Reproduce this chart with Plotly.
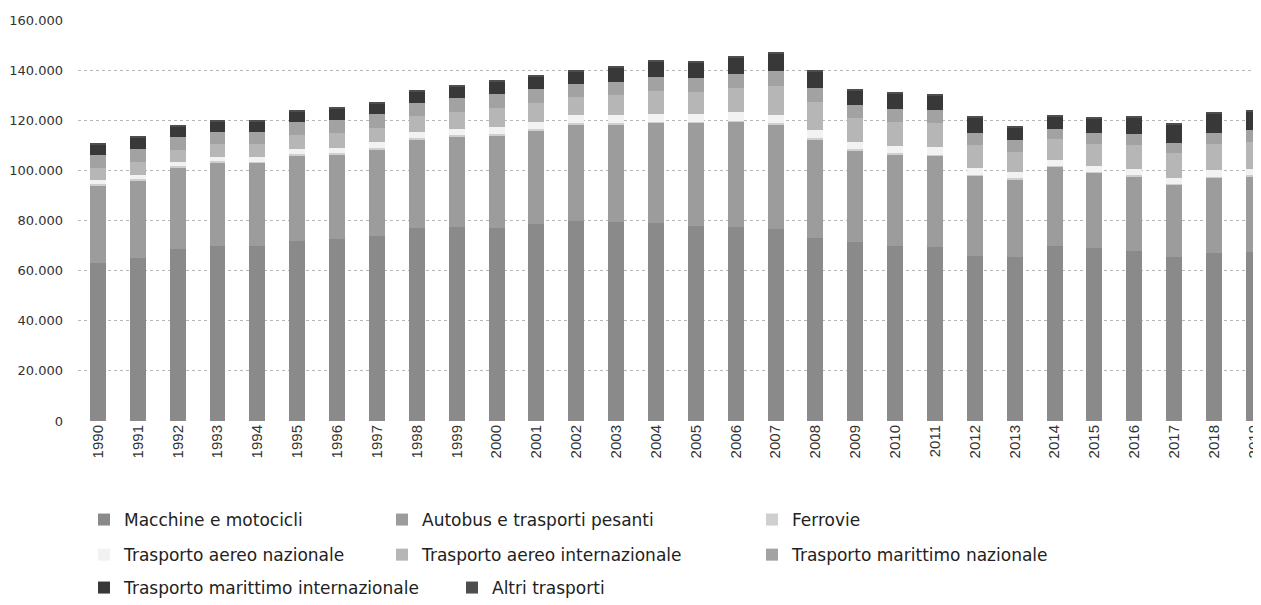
import plotly.graph_objects as go

years = [str(y) for y in range(1990, 2020)]

macchine = [63.0, 65.0, 68.5, 70.0, 70.0, 72.0, 72.5, 74.0, 77.0, 77.5, 77.0, 78.5, 80.0, 79.5, 79.0,
            78.0, 77.5, 76.5, 73.0, 71.5, 70.0, 69.5, 66.0, 65.5, 70.0, 69.0, 68.0, 65.5, 67.0, 67.5]
autobus = [31.0, 31.0, 32.5, 33.0, 33.0, 34.0, 34.0, 34.5, 35.5, 36.0, 37.0, 37.5, 38.5, 39.0, 40.0,
           41.0, 42.0, 42.0, 39.5, 36.5, 36.5, 36.5, 32.0, 31.0, 31.5, 30.0, 29.7, 28.7, 30.2, 30.2]
ferrovie = [0.6, 0.6, 0.6, 0.6, 0.5, 0.5, 0.5, 0.5, 0.5, 0.5, 0.5, 0.5, 0.5, 0.5, 0.4,
            0.4, 0.4, 0.4, 0.4, 0.4, 0.3, 0.3, 0.3, 0.3, 0.3, 0.3, 0.3, 0.3, 0.3, 0.3]
aereo_naz = [1.7, 1.7, 1.8, 1.8, 1.9, 2.0, 2.1, 2.2, 2.4, 2.6, 2.7, 2.8, 2.9, 3.0, 3.1,
             3.1, 3.2, 3.3, 3.1, 2.9, 2.9, 2.9, 2.7, 2.5, 2.4, 2.4, 2.4, 2.5, 2.5, 2.5]
aereo_int = [4.8, 5.0, 4.9, 5.0, 5.1, 5.5, 5.8, 5.9, 6.3, 6.7, 7.6, 7.6, 7.4, 8.0, 9.1,
             8.9, 9.7, 11.5, 11.1, 9.5, 9.6, 9.7, 9.0, 8.1, 8.2, 8.8, 9.7, 9.8, 10.5, 11.0]
marit_naz = [5.0, 5.3, 5.2, 5.1, 5.0, 5.2, 5.3, 5.2, 5.3, 5.4, 5.5, 5.4, 5.2, 5.3, 5.6,
             5.6, 5.7, 5.8, 5.6, 5.2, 5.2, 5.3, 5.0, 4.6, 4.3, 4.4, 4.5, 4.3, 4.4, 4.5]
marit_int = [4.2, 4.5, 4.0, 4.0, 4.0, 4.3, 4.3, 4.2, 4.5, 4.8, 5.2, 5.2, 5.0, 5.8, 6.3,
             6.0, 6.5, 7.0, 6.8, 6.0, 6.0, 5.8, 6.0, 5.0, 4.8, 5.6, 6.5, 7.2, 7.6, 7.5]
altri = [0.5] * 30

series = [
    ("Macchine e motocicli", macchine, "#8a8a8a", "legend"),
    ("Autobus e trasporti pesanti", autobus, "#9c9c9c", "legend2"),
    ("Ferrovie", ferrovie, "#cfcfcf", "legend3"),
    ("Trasporto aereo nazionale", aereo_naz, "#f2f2f2", "legend"),
    ("Trasporto aereo internazionale", aereo_int, "#b6b6b6", "legend2"),
    ("Trasporto marittimo nazionale", marit_naz, "#a2a2a2", "legend3"),
    ("Trasporto marittimo internazionale", marit_int, "#383838", "legend4"),
    ("Altri trasporti", altri, "#4e4e4e", "legend5"),
]

fig = go.Figure()
for name, vals, col, lg in series:
    fig.add_trace(go.Bar(
        x=years, y=[v * 1000 for v in vals], name=name,
        marker=dict(color=col, line=dict(width=0)),
        legend=lg, legendgroup=name,
    ))

legend_font = dict(family="DejaVu Sans", size=17, color="#222")
common = dict(xref="container", yref="container", xanchor="left", yanchor="top",
              font=legend_font, bgcolor="rgba(0,0,0,0)", itemwidth=30,
              traceorder="grouped", itemclick=False)
W, H = 1261, 605


def leg(xpx, ytop, orient="v"):
    return dict(orientation=orient, x=xpx / W, y=1 - ytop / H, tracegroupgap=10, **common)


fig.update_layout(
    barmode="stack",
    bargap=0.6,
    width=W, height=H,
    margin=dict(l=70, r=0, t=12, b=192, autoexpand=False),
    paper_bgcolor="white", plot_bgcolor="white",
    separators=",.",
    showlegend=True,
    legend=leg(76, 494),
    legend2=leg(374, 494),
    legend3=leg(744, 494),
    legend4=leg(76, 562, "h"),
    legend5=leg(444, 562, "h"),
    xaxis=dict(
        range=[-0.5, 29.38], tickangle=-90, automargin=False,
        tickfont=dict(family="Liberation Sans, Arial", size=15, color="#333"),
        showgrid=False, showline=False, ticks="",
    ),
    yaxis=dict(
        range=[0, 160000], dtick=20000, tickformat=",.0f", automargin=False,
        tickfont=dict(family="DejaVu Sans", size=13, color="#333"),
        showgrid=True, gridcolor="#b8b8b8", griddash="dot", gridwidth=1,
        zeroline=False, showline=False, ticks="", ticklabelstandoff=14,
    ),
)

fig.write_html("out.html")
